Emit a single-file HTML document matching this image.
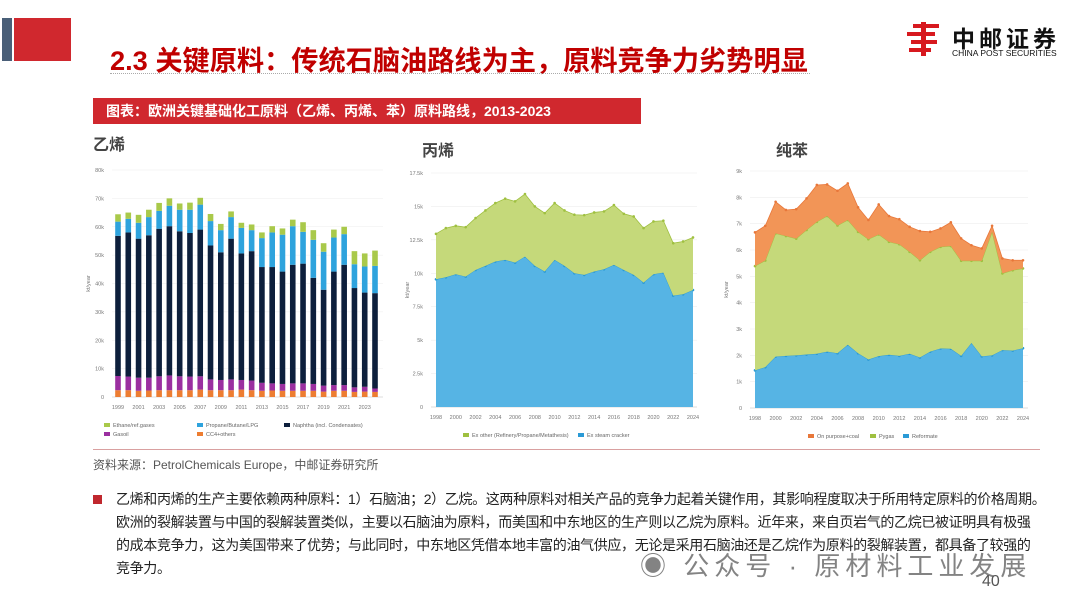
<!DOCTYPE html>
<html><head><meta charset="utf-8"><style>
body{margin:0;width:1080px;height:605px;overflow:hidden;background:#fff;position:relative;font-family:"Liberation Sans","Noto Sans CJK SC",sans-serif}
.a{position:absolute;white-space:nowrap}
</style></head><body>
<div class="a" style="left:2px;top:18px;width:10px;height:43px;background:#4a5f78"></div>
<div class="a" style="left:14px;top:18px;width:57px;height:43px;background:#d0282e"></div>
<div class="a" style="left:110px;top:38px;font-size:27.2px;font-weight:bold;color:#c00000">2.3 关键原料：传统石脑油路线为主，原料竞争力劣势明显</div>
<div class="a" style="left:110px;top:73px;width:700px;border-top:1px dotted #aaa"></div>
<div class="a" style="left:905px;top:20px;width:38px;height:38px">
<svg width="38" height="38"><g fill="#d7191f"><rect x="8" y="4" width="26" height="4"/><rect x="2" y="12" width="28" height="4"/><rect x="6" y="20" width="26" height="4"/><rect x="4" y="28" width="22" height="4"/><rect x="16" y="2" width="5" height="34"/></g></svg></div>
<div class="a" style="left:952px;top:20px;font-size:23px;font-weight:bold;color:#111;letter-spacing:4px">中邮证券</div>
<div class="a" style="left:952px;top:48px;font-size:8.5px;color:#111">CHINA POST SECURITIES</div>
<div class="a" style="left:93px;top:98px;width:548px;height:26px;background:#d0282e;color:#fff;font-size:14px;font-weight:bold;line-height:26px;padding-left:13px;box-sizing:border-box">图表：欧洲关键基础化工原料（乙烯、丙烯、苯）原料路线，2013-2023</div>
<div class="a" style="left:93px;top:131px;font-size:16px;font-weight:bold;color:#444">乙烯</div>
<div class="a" style="left:422px;top:137px;font-size:16px;font-weight:bold;color:#444">丙烯</div>
<div class="a" style="left:776px;top:137px;font-size:16px;font-weight:bold;color:#444">纯苯</div>
<svg class="a" id="charts" style="left:0;top:0" width="1080" height="450"></svg>
<div class="a" style="left:93px;top:449px;width:947px;border-top:1px solid #d9a0a0"></div>
<div class="a" style="left:93px;top:456px;font-size:12px;color:#555">资料来源：PetrolChemicals Europe，中邮证券研究所</div>
<div class="a" style="left:93px;top:495px;width:9px;height:9px;background:#c0282e"></div>
<div class="a" style="left:116px;top:488px;width:950px;white-space:normal;font-size:14px;line-height:23px;color:#222;letter-spacing:-0.35px">乙烯和丙烯的生产主要依赖两种原料：1）石脑油；2）乙烷。这两种原料对相关产品的竞争力起着关键作用，其影响程度取决于所用特定原料的价格周期。<br>欧洲的裂解装置与中国的裂解装置类似，主要以石脑油为原料，而美国和中东地区的生产则以乙烷为原料。近年来，来自页岩气的乙烷已被证明具有极强<br>的成本竞争力，这为美国带来了优势；与此同时，中东地区凭借本地丰富的油气供应，无论是采用石脑油还是乙烷作为原料的裂解装置，都具备了较强的<br>竞争力。</div>
<div class="a" style="left:640px;top:546px;font-size:26px;letter-spacing:5px;color:rgba(90,90,90,0.75)">◉ 公众号 · 原材料工业发展</div>
<div class="a" style="left:982px;top:573px;font-size:16px;color:#555">40</div>
<script>
// Ethylene (k t/yr), 1999-2024
const ethYears=[1999,2000,2001,2002,2003,2004,2005,2006,2007,2008,2009,2010,2011,2012,2013,2014,2015,2016,2017,2018,2019,2020,2021,2022,2023,2024];
const ethC4=[2.4,2.4,2.2,2.3,2.4,2.4,2.4,2.4,2.6,2.4,2.4,2.4,2.6,2.4,2.2,2.3,2.2,2.2,2.2,2.2,1.9,2.2,2.2,1.8,1.9,1.8];
const ethGasoil=[5.0,4.8,4.6,4.5,4.9,5.2,4.9,4.8,4.7,3.8,3.6,3.8,3.4,3.4,2.8,2.5,2.4,2.6,2.6,2.4,2.1,2.0,2.0,1.6,1.7,1.2];
const ethNaphtha=[49.4,50.8,49.0,50.2,52.0,52.6,51.1,50.6,51.7,47.2,45.0,49.6,44.6,45.6,40.8,41.0,39.6,41.8,42.2,37.4,33.8,40.0,42.4,35.0,33.2,33.6];
const ethLpg=[5.0,4.8,5.6,6.4,6.3,7.2,7.6,8.2,8.8,8.6,7.8,7.6,9.0,7.4,10.2,12.2,13.0,13.6,11.2,13.4,13.4,12.0,10.8,8.4,9.2,9.6];
const ethEthane=[2.6,2.2,2.8,2.6,2.8,2.6,2.2,2.5,2.4,2.5,2.2,2.0,1.8,2.0,2.0,2.2,2.2,2.3,3.4,3.4,3.0,2.8,2.6,4.6,4.6,5.4];
const ethTicks=["0","10k","20k","30k","40k","50k","60k","70k","80k"];
// Propylene, 1998-2024
const proYears=[1998,1999,2000,2001,2002,2003,2004,2005,2006,2007,2008,2009,2010,2011,2012,2013,2014,2015,2016,2017,2018,2019,2020,2021,2022,2023,2024];
const proSteam=[9.55,9.7,9.93,9.75,10.25,10.55,10.88,11.0,10.8,11.25,10.55,10.13,11.0,10.55,10.0,9.88,10.13,10.3,10.63,10.25,9.88,9.3,9.93,10.05,8.33,8.43,8.75];
const proOther=[3.4,3.68,3.62,3.7,3.88,4.15,4.37,4.58,4.58,4.68,4.45,4.37,4.25,4.15,4.38,4.47,4.42,4.33,4.47,4.2,4.37,4.08,3.95,3.88,3.92,3.95,3.93];
const proTicks=["0","2.5k","5k","7.5k","10k","12.5k","15k","17.5k"];
// Benzene, 1998-2024
const benReformate=[1.43,1.55,1.95,1.98,2.0,2.03,2.06,2.14,2.08,2.4,2.08,1.84,1.97,2.02,1.98,2.06,1.92,2.14,2.26,2.25,1.98,2.47,1.96,2.0,2.2,2.18,2.27];
const benPygas=[3.96,4.05,4.68,4.55,4.43,4.73,5.01,5.15,4.85,4.74,4.61,4.57,4.62,4.29,4.24,3.87,3.69,3.79,3.86,3.9,3.61,3.12,3.63,4.69,2.91,3.05,3.03];
const benOnPurpose=[1.28,1.32,1.2,0.99,1.12,1.2,1.4,1.2,1.32,1.39,0.93,0.73,1.14,0.98,0.95,0.95,1.11,0.76,0.7,0.9,0.85,0.59,0.47,0.23,0.57,0.38,0.31];
const benTicks=["0","1k","2k","3k","4k","5k","6k","7k","8k","9k"];

const svg=document.getElementById('charts');
const NS='http://www.w3.org/2000/svg';
function mk(t,a,txt){const e=document.createElementNS(NS,t);for(const k in a)e.setAttribute(k,a[k]);if(txt!==undefined)e.textContent=txt;svg.appendChild(e);return e;}
function axes(x0,x1,y0,y1,max,step,ticks,name){
  const sy=v=>y0-(v/max)*(y0-y1);
  ticks.forEach((t,i)=>{const y=sy(i*step);
    const g=mk('line',{x1:x0,x2:x1,y1:y,y2:y,stroke:i?'#eeeeee':'#bbb','stroke-width':0.6});
    
    const l=mk('text',{x:x0-8,y:y+2,'font-size':5.5,fill:'#777','text-anchor':'end'},t);
    });
  const yt=mk('text',{x:0,y:0,'font-size':5.5,fill:'#777','text-anchor':'middle',transform:`translate(${x0-22},${(y0+y1)/2}) rotate(-90)`},'kt/year');
  
  return sy;
}
function legend(items,y,name){items.forEach(it=>{
  const r=mk('rect',{x:it[0],y:y-3,width:6,height:4,fill:it[2]});
  const t=mk('text',{x:it[0]+9,y:y+1,'font-size':5.5,fill:'#666'},it[1]);});}

(function(){
  const x0=112,x1=383,y0=397,y1=170;
  const sy=axes(x0,x1,y0,y1,80,10,ethTicks,'ethylene');
  const n=ethYears.length,xf=i=>118+i*(375-118)/(n-1);
  const series=[[ethC4,'#ed7d31','cc4'],[ethGasoil,'#9b2fa0','gasoil'],[ethNaphtha,'#0d1f3c','naphtha'],[ethLpg,'#2ea3dd','lpg'],[ethEthane,'#a9c94a','ethane']];
  ethYears.forEach((yr,i)=>{let acc=0;
    series.forEach(s=>{const v=s[0][i];const r=mk('rect',{x:xf(i)-2.8,y:sy(acc+v),width:5.6,height:sy(acc)-sy(acc+v),fill:s[1]});
      acc+=v;});
    if(i%2===0){const t=mk('text',{x:xf(i),y:y0+12,'font-size':5.5,fill:'#777','text-anchor':'middle'},yr);
      }
  });
  legend([[104,'Ethane/ref.gases','#a9c94a'],[197,'Propane/Butane/LPG','#2ea3dd'],[284,'Naphtha (incl. Condensates)','#0d1f3c']],426,'ethylene');
  legend([[104,'Gasoil','#9b2fa0'],[197,'CC4+others','#ed7d31']],435,'ethylene');
})();

function areaChart(name,years,series,max,step,ticks,x0,x1,y0,y1,px0,px1,labelEvery){
  const sy=axes(x0,x1,y0,y1,max,step,ticks,name);
  const n=years.length,xf=i=>px0+i*(px1-px0)/(n-1);
  const base=new Array(n).fill(0);
  series.forEach(s=>{const top=base.map((b,i)=>b+s[0][i]);
    let d='M'+top.map((v,i)=>xf(i)+','+sy(v)).join('L');
    for(let i=n-1;i>=0;i--)d+='L'+xf(i)+','+sy(base[i]);
    const p=mk('path',{d:d+'Z',fill:s[1]});
    const l=mk('polyline',{points:top.map((v,i)=>xf(i)+','+sy(v)).join(' '),fill:'none',stroke:s[3],'stroke-width':0.8});
    
    top.forEach((v,i)=>{const c=mk('circle',{cx:xf(i),cy:sy(v),r:1.3,fill:s[3]});});
    top.forEach((v,i)=>base[i]=v);
  });
  years.forEach((yr,i)=>{if(i%labelEvery===0){const t=mk('text',{x:xf(i),y:y0+12,'font-size':5.5,fill:'#777','text-anchor':'middle'},yr);
    }});
}
areaChart('propylene',proYears,[[proSteam,'#56b4e4','steam','#2a9ad6'],[proOther,'#c5d97a','other','#9fc040']],17.5,2.5,proTicks,431,697,407,173,436,693,2);
legend([[463,'Ex other (Refinery/Propane/Metathesis)','#9fc040'],[578,'Ex steam cracker','#2a9ad6']],436,'propylene');
areaChart('benzene',proYears,[[benReformate,'#56b4e4','reformate','#2a9ad6'],[benPygas,'#c5d97a','pygas','#9fc040'],[benOnPurpose,'#f29557','onpurpose','#e8773a']],9,1,benTicks,750,1028,408,171,755,1023,2);
legend([[808,'On purpose+coal','#e8773a'],[870,'Pygas','#9fc040'],[903,'Reformate','#2a9ad6']],437,'benzene');
</script>
</body></html>
